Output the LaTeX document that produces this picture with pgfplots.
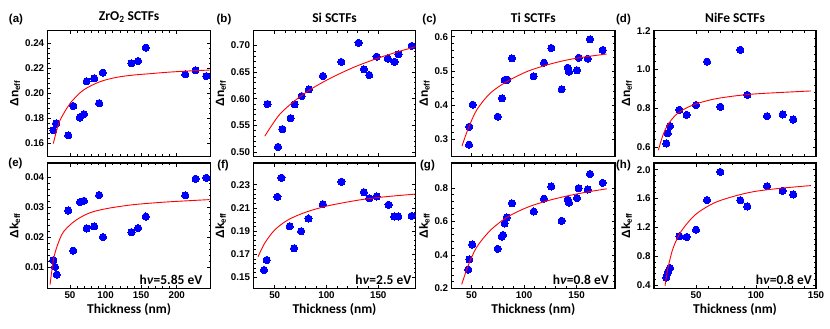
\documentclass[border=0pt]{standalone}
\usepackage{fontspec}
\setmainfont{Liberation Sans}
\newfontfamily\calib{Carlito}
\usepackage{pgfplots}
\pgfplotsset{compat=1.18}
\definecolor{ptblue}{RGB}{0,0,255}
\definecolor{fitred}{RGB}{255,0,0}

\pgfplotsset{
  sctf/.style={
    scale only axis, height=125.4pt,
    axis line style={line width=1.1pt},
    tick align=inside, xtick pos=both, ytick pos=both,
    major tick length=3.5pt, minor tick length=2pt,
    tick style={black, line width=0.6pt},
    minor x tick num=4, minor y tick num=4,
    tick label style={font=\bfseries\fontsize{9.8}{10}\selectfont},
    /pgf/number format/assume math mode=true,
    scaled ticks=false,
    xlabel style={font=\calib\bfseries\fontsize{13.5}{15}\selectfont, yshift=2pt},
    ylabel style={font=\bfseries\fontsize{12}{13}\selectfont, yshift=-2pt},
    title style={font=\calib\bfseries\fontsize{13.5}{15}\selectfont, yshift=-1pt},
    clip mode=individual, clip marker paths=true,
  },
  pts/.style={ptblue, only marks, mark=*, mark size=3.6pt, mark options={draw=ptblue, fill=ptblue, line width=0pt}},
  fitc/.style={fitred, line width=0.9pt, smooth, tension=0.5, no marks},
}
\tikzset{ev/.style={anchor=south east, inner sep=0pt, font=\calib\bfseries\fontsize{13.5}{15}\selectfont}}
\newcommand{\hv}[1]{h\textit{ν}=#1 eV}

\begin{document}
\begin{tikzpicture}
\useasboundingbox (0,0) rectangle (830pt,-329pt);

% ---------- top row: Delta n ----------
\begin{axis}[sctf, at={(47.7pt,-30.7pt)}, anchor=north west, width=162.8pt,
  xmin=18.7, xmax=247.4, ymin=0.15, ymax=0.25,
  xtick={50,100,150,200}, xticklabels={},
  ytick={0.16,0.18,0.20,0.22,0.24},
  yticklabel style={/pgf/number format/.cd,fixed,fixed zerofill,precision=2},
  ylabel={Δn\textsubscript{eff}}, title={ZrO\textsubscript{2} SCTFs}]
\addplot[pts] coordinates {(26.6,0.1706) (30.4,0.176) (47.6,0.1666) (54.6,0.190) (64,0.1808) (69.6,0.1834) (73.4,0.2096) (84,0.212) (91,0.1922) (96.2,0.2165) (136.4,0.224) (145.7,0.2258) (156.5,0.2365) (212,0.2152) (226.5,0.2184) (241.5,0.2138)};
\addplot[fitc] coordinates {(26.6,0.1600) (31,0.1700) (36.0,0.1786) (45.4,0.1880) (51.4,0.1930) (68.7,0.2026) (92,0.2093) (115.4,0.2128) (138.7,0.2146) (162,0.2157) (185.4,0.2168) (213.4,0.2178) (246,0.2186)};
\end{axis}

\begin{axis}[sctf, at={(253.5pt,-30.7pt)}, anchor=north west, width=162pt,
  xmin=29.5, xmax=186, ymin=0.492, ymax=0.728,
  xtick={50,100,150}, xticklabels={},
  ytick={0.50,0.55,0.60,0.65,0.70},
  yticklabel style={/pgf/number format/.cd,fixed,fixed zerofill,precision=2},
  ylabel={Δn\textsubscript{eff}}, title={Si SCTFs}]
\addplot[pts] coordinates {(43,0.590) (53.2,0.5094) (57.4,0.5428) (65.4,0.5635) (69.2,0.5893) (76,0.605) (83,0.6176) (96.5,0.6428) (114.4,0.6692) (131,0.705) (136.2,0.6553) (141.3,0.6446) (148.4,0.6792) (159.3,0.6755) (165.7,0.6692) (169.6,0.6836) (182.4,0.6994)};
\addplot[fitc] coordinates {(40.4,0.5295) (54.2,0.5692) (70.2,0.5975) (86.2,0.6195) (105.4,0.6402) (127.9,0.6604) (150.3,0.6767) (169.6,0.6887) (185.6,0.6975)};
\end{axis}

\begin{axis}[sctf, at={(451.7pt,-30.7pt)}, anchor=north west, width=163.3pt,
  xmin=31, xmax=186.5, ymin=0.251, ymax=0.6175,
  xtick={50,100,150}, xticklabels={},
  ytick={0.3,0.4,0.5,0.6},
  yticklabel style={/pgf/number format/.cd,fixed,fixed zerofill,precision=1},
  ylabel={Δn\textsubscript{eff}}, title={Ti SCTFs}]
\addplot[pts] coordinates {(47.5,0.2844) (47.8,0.337) (51,0.4013) (74.8,0.3662) (78.9,0.4198) (81.4,0.4734) (84,0.4744) (88.4,0.5367) (109,0.4841) (118.9,0.524) (125.9,0.5669) (135.7,0.4461) (141.4,0.5094) (142.7,0.4977) (150.3,0.5016) (151.9,0.5386) (160.5,0.5357) (162.7,0.5922) (174.8,0.561)};
\addplot[fitc] coordinates {(40.8,0.2805) (46.8,0.3322) (54.8,0.3857) (67.5,0.4344) (83.3,0.4685) (102.4,0.4977) (121.4,0.5172) (140.5,0.5318) (159.5,0.5416) (178.6,0.5494)};
\end{axis}

\begin{axis}[sctf, at={(654pt,-30.7pt)}, anchor=north west, width=162pt,
  xmin=15, xmax=150, ymin=0.552, ymax=1.2,
  xtick={50,100,150}, xticklabels={},
  ytick={0.6,0.8,1.0,1.2},
  yticklabel style={/pgf/number format/.cd,fixed,fixed zerofill,precision=1},
  ylabel={Δn\textsubscript{eff}}, title={NiFe SCTFs}]
\addplot[pts] coordinates {(25.3,0.6174) (26.4,0.6696) (28.3,0.7079) (36.1,0.7913) (42.2,0.7653) (50,0.8157) (59.2,1.04) (70.3,0.807) (86.9,1.1009) (92.8,0.8679) (109.2,0.7583) (122.2,0.767) (131.1,0.7409)};
\addplot[fitc] coordinates {(18.6,0.5826) (22.2,0.6557) (26.4,0.713) (33.3,0.7653) (41.7,0.80) (51.4,0.8244) (65.3,0.847) (81.9,0.8626) (98.6,0.873) (118,0.88) (145.8,0.8887)};
\end{axis}

% ---------- bottom row: Delta k ----------
\begin{axis}[sctf, at={(47.7pt,-163pt)}, anchor=north west, width=162.8pt,
  xmin=18.7, xmax=247.4, ymin=0.0028, ymax=0.0446,
  xtick={50,100,150,200},
  ytick={0.01,0.02,0.03,0.04},
  yticklabel style={/pgf/number format/.cd,fixed,fixed zerofill,precision=2},
  xlabel={Thickness (nm)}, ylabel={Δk\textsubscript{eff}}]
\addplot[pts] coordinates {(26.6,0.01224) (29,0.0100) (31.4,0.0074) (47.6,0.02876) (54.6,0.01538) (64,0.03157) (69.6,0.0320) (73.4,0.0228) (84,0.02348) (91,0.0339) (96.2,0.0199) (136.4,0.02157) (145.7,0.0229) (156.5,0.02674) (212,0.03382) (226.5,0.03933) (241.5,0.03966)};
\addplot[fitc] coordinates {(22,0.0041) (26.6,0.0122) (31.4,0.0165) (38.4,0.0207) (45.4,0.0229) (59.3,0.0257) (78,0.0280) (101.4,0.0294) (138.7,0.0307) (185.4,0.0316) (246,0.0324)};
\node[ev] at (rel axis cs:1,0) [xshift=-8pt, yshift=4pt] {\hv{5.85}};
\end{axis}

\begin{axis}[sctf, at={(253.5pt,-163pt)}, anchor=north west, width=162pt,
  xmin=29.5, xmax=186, ymin=0.1405, ymax=0.2488,
  xtick={50,100,150},
  ytick={0.15,0.17,0.19,0.21,0.23},
  yticklabel style={/pgf/number format/.cd,fixed,fixed zerofill,precision=2},
  xlabel={Thickness (nm)}, ylabel={Δk\textsubscript{eff}}]
\addplot[pts] coordinates {(39.7,0.1564) (42.3,0.165) (52.6,0.2196) (56.5,0.2361) (64.5,0.1942) (68.7,0.1751) (75.5,0.1899) (82.6,0.2008) (96.5,0.2132) (114.5,0.2326) (130.6,0.252) (136.1,0.2236) (141.3,0.2184) (148.4,0.2199) (160,0.2127) (165.5,0.2026) (169.4,0.2026) (182.3,0.2031)};
\addplot[fitc] coordinates {(33.9,0.1679) (40.3,0.1795) (50,0.191) (62.9,0.1997) (79,0.206) (98.4,0.2112) (117.7,0.2147) (137.1,0.2176) (159.7,0.2199) (185.5,0.2219)};
\node[ev] at (rel axis cs:1,0) [xshift=-4pt, yshift=4pt] {\hv{2.5}};
\end{axis}

\begin{axis}[sctf, at={(451.7pt,-163pt)}, anchor=north west, width=163.3pt,
  xmin=31, xmax=186.5, ymin=0.2, ymax=0.948,
  xtick={50,100,150},
  ytick={0.2,0.4,0.6,0.8},
  yticklabel style={/pgf/number format/.cd,fixed,fixed zerofill,precision=1},
  xlabel={Thickness (nm)}, ylabel={Δk\textsubscript{eff}}]
\addplot[pts] coordinates {(46.8,0.3122) (47.8,0.3731) (50.6,0.4617) (74.8,0.4361) (78.6,0.5089) (79.8,0.5187) (81.4,0.5876) (83.3,0.623) (88.4,0.7076) (109,0.6584) (118.9,0.7351) (125.9,0.8079) (135.7,0.6033) (141.4,0.7292) (142.7,0.7115) (150.3,0.739) (151.9,0.798) (160.5,0.790) (162.7,0.8826) (174.8,0.8295)};
\addplot[fitc] coordinates {(40.5,0.2237) (46.8,0.3378) (54.8,0.446) (67.5,0.5443) (83.3,0.623) (102.4,0.682) (121.4,0.7213) (140.5,0.7508) (159.5,0.7744) (178.6,0.7941)};
\node[ev] at (rel axis cs:1,0) [xshift=-6pt, yshift=4pt] {\hv{0.8}};
\end{axis}

\begin{axis}[sctf, at={(654pt,-163pt)}, anchor=north west, width=162pt,
  xmin=15, xmax=150, ymin=0.354, ymax=2.092,
  xtick={50,100,150},
  ytick={0.4,0.8,1.2,1.6,2.0},
  yticklabel style={/pgf/number format/.cd,fixed,fixed zerofill,precision=1},
  xlabel={Thickness (nm)}, ylabel={Δk\textsubscript{eff}}]
\addplot[pts] coordinates {(25.3,0.5057) (26.4,0.5747) (28.3,0.6345) (36.1,1.0759) (42.2,1.0667) (50,1.1678) (59.2,1.577) (70.3,1.9678) (86.9,1.577) (92.8,1.4897) (109.2,1.77) (122.2,1.7057) (131.1,1.6552)};
\addplot[fitc] coordinates {(24.2,0.3908) (26.4,0.6207) (30.6,0.8966) (36.1,1.1034) (43.1,1.2644) (51.4,1.4023) (65.3,1.5402) (81.9,1.6322) (98.6,1.6966) (120.8,1.7425) (145.8,1.7793)};
\node[ev] at (rel axis cs:1,0) [xshift=-4pt, yshift=4pt] {\hv{0.8}};
\end{axis}

% panel letters
\begin{scope}[every node/.style={font=\bfseries\fontsize{11.5}{12}\selectfont, inner sep=0pt}]
\node at (16pt,-20pt) {(a)};
\node at (224pt,-20pt) {(b)};
\node at (429.5pt,-20pt) {(c)};
\node at (623.5pt,-20pt) {(d)};
\node at (15.5pt,-164pt) {(e)};
\node at (223pt,-166pt) {(f)};
\node at (427.5pt,-166pt) {(g)};
\node at (623.5pt,-166pt) {(h)};
\end{scope}
\end{tikzpicture}
\end{document}
